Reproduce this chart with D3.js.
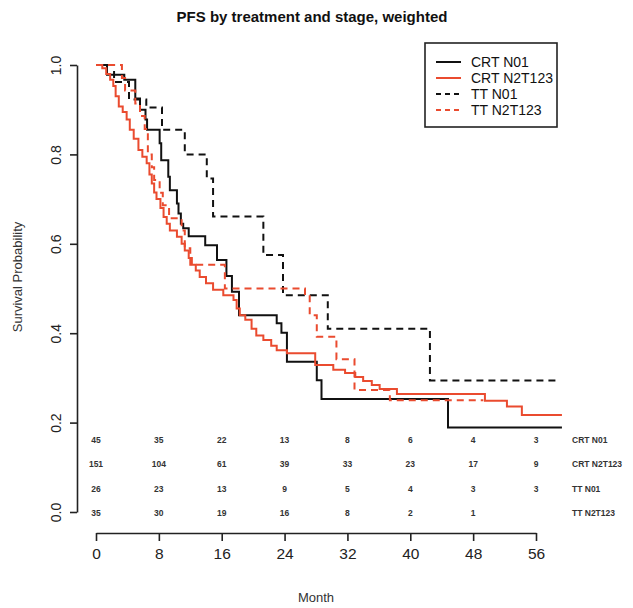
<!DOCTYPE html>
<html><head><meta charset="utf-8">
<script src="https://cdn.jsdelivr.net/npm/d3@7"></script>
<style>
html,body{margin:0;padding:0;background:#fff;}
svg{display:block;font-family:"Liberation Sans",Arial,sans-serif;}
</style></head>
<body>
<svg id="chart" width="633" height="608"></svg>
<script>
// ---------- data ----------
const seriesNames = ["CRT N01", "CRT N2T123", "TT N01", "TT N2T123"];
const monthTicks = [0, 8, 16, 24, 32, 40, 48, 56];
const survTicks = [0, 0.2, 0.4, 0.6, 0.8, 1.0];

// step-function survival curves (time of step, survival after step); last entry = end of follow-up
const crtN01Time = [0, 1.4, 3.6, 5.0, 5.6, 6.3, 6.5, 8.1, 8.3, 9.2, 9.4, 10.3, 10.5, 10.8, 11.1, 11.8, 13.9, 15.4, 16.6, 17.3, 18.2, 23.0, 23.6, 24.3, 28.1, 28.7, 44.8, 59.3];
const crtN01Surv = [1.0, 0.978, 0.967, 0.925, 0.90, 0.878, 0.855, 0.825, 0.787, 0.75, 0.72, 0.69, 0.668, 0.645, 0.635, 0.617, 0.597, 0.564, 0.528, 0.493, 0.44, 0.422, 0.401, 0.336, 0.295, 0.253, 0.189, 0.189];

const crtN2Time = [0, 0.8, 1.3, 1.8, 2.2, 2.5, 2.9, 3.4, 3.9, 4.3, 4.8, 5.4, 5.9, 6.45, 6.8, 7.1, 7.4, 7.7, 8.2, 8.6, 9.0, 9.4, 10.3, 10.9, 11.3, 11.8, 12.2, 12.7, 13.2, 14.0, 14.9, 16.2, 17.5, 17.9, 18.3, 19.0, 19.8, 20.4, 21.3, 22.3, 23.0, 24.3, 27.9, 30.2, 31.7, 33.0, 34.0, 35.1, 36.1, 38.3, 49.5, 52.3, 54.2, 59.3];
const crtN2Surv = [1.0, 0.993, 0.98, 0.967, 0.953, 0.93, 0.907, 0.895, 0.878, 0.855, 0.835, 0.81, 0.795, 0.78, 0.755, 0.735, 0.715, 0.70, 0.68, 0.66, 0.645, 0.63, 0.616, 0.60, 0.585, 0.568, 0.553, 0.54, 0.526, 0.512, 0.497, 0.485, 0.474, 0.455, 0.44, 0.43, 0.41, 0.395, 0.385, 0.372, 0.362, 0.355, 0.329, 0.318, 0.311, 0.302, 0.293, 0.284, 0.275, 0.264, 0.249, 0.236, 0.217, 0.217];

const ttN01Time = [0, 2.3, 4.2, 6.4, 8.4, 11.3, 14.1, 14.9, 21.3, 23.8, 29.5, 42.5, 58.7];
const ttN01Surv = [1.0, 0.962, 0.923, 0.905, 0.855, 0.80, 0.746, 0.661, 0.575, 0.485, 0.41, 0.294, 0.294];

const ttN2Time = [0, 3.3, 3.7, 5.0, 5.6, 6.2, 6.6, 7.1, 7.4, 8.1, 8.5, 9.3, 10.9, 11.3, 12.0, 16.4, 26.6, 27.2, 28.1, 30.6, 32.9, 37.4, 49.3];
const ttN2Surv = [1.0, 0.971, 0.943, 0.914, 0.886, 0.857, 0.80, 0.771, 0.743, 0.714, 0.686, 0.657, 0.63, 0.59, 0.553, 0.50, 0.485, 0.44, 0.392, 0.342, 0.273, 0.25, 0.25];

// numbers at risk at each month tick
const atRiskCRTN01 = [45, 35, 22, 13, 8, 6, 4, 3];
const atRiskCRTN2T123 = [151, 104, 61, 39, 33, 23, 17, 9];
const atRiskTTN01 = [26, 23, 13, 9, 5, 4, 3, 3];
const atRiskTTN2T123 = [35, 30, 19, 16, 8, 2, 1, null];

// ---------- drawing ----------
const svg = d3.select("#chart");
const font = '"Liberation Sans", Arial, sans-serif';
const red = "#ea4b2f";
const colors = ["#111111", red, "#111111", red];
const dashes = [null, null, "7,5", "7,5"];

const x = d3.scaleLinear().domain([0, 56]).range([96, 536]);
const y = d3.scaleLinear().domain([0, 1]).range([512, 65]);

const curves = [
  [crtN01Time, crtN01Surv],
  [crtN2Time, crtN2Surv],
  [ttN01Time, ttN01Surv],
  [ttN2Time, ttN2Surv]
];

// title
svg.append("text").attr("x", 312).attr("y", 22).attr("text-anchor", "middle")
  .attr("font-size", 15).attr("font-weight", "bold").attr("fill", "#111")
  .text("PFS by treatment and stage, weighted");

// y axis
const yAxis = svg.append("g").attr("transform", "translate(77,0)")
  .call(d3.axisLeft(y).tickValues(survTicks).tickFormat(d3.format(".1f")).tickSize(7).tickSizeOuter(0));
yAxis.select(".domain").attr("stroke", "#222").attr("stroke-width", 1.6);
yAxis.selectAll(".tick line").attr("stroke", "#222").attr("stroke-width", 1.6);
yAxis.selectAll(".tick text")
  .attr("font-family", font).attr("font-size", 14).attr("fill", "#222")
  .attr("x", 0).attr("y", 0).attr("dy", 0)
  .attr("text-anchor", "middle")
  .attr("transform", "translate(-16,0) rotate(-90)");

// x axis
const xAxis = svg.append("g").attr("transform", "translate(0,533)")
  .call(d3.axisBottom(x).tickValues(monthTicks).tickSize(8).tickSizeOuter(0));
xAxis.select(".domain").attr("stroke", "#222").attr("stroke-width", 1.6);
xAxis.selectAll(".tick line").attr("stroke", "#222").attr("stroke-width", 1.6);
xAxis.selectAll(".tick text").attr("font-family", font).attr("font-size", 15.5)
  .attr("fill", "#222").attr("y", 15).attr("dy", "0.71em");

// axis titles
svg.append("text").attr("x", 316).attr("y", 602).attr("text-anchor", "middle")
  .attr("font-size", 13).attr("fill", "#333").text("Month");
svg.append("text").attr("transform", "translate(22,277) rotate(-90)").attr("text-anchor", "middle")
  .attr("font-size", 13).attr("fill", "#333").text("Survival Probability");

// curves
const line = d3.line().curve(d3.curveStepAfter).x(d => x(d[0])).y(d => y(d[1]));
curves.forEach((c, i) => {
  const pts = c[0].map((t, k) => [t, c[1][k]]);
  svg.append("path").datum(pts).attr("d", line)
    .attr("fill", "none").attr("stroke", colors[i]).attr("stroke-width", 2)
    .attr("stroke-dasharray", dashes[i]);
});

// numbers at risk
const atRisk = [atRiskCRTN01, atRiskCRTN2T123, atRiskTTN01, atRiskTTN2T123];
const rowY = [440, 464.5, 489, 513.5];
atRisk.forEach((row, r) => {
  row.forEach((v, k) => {
    if (v === null) return;
    svg.append("text").attr("x", x(monthTicks[k])).attr("y", rowY[r]).attr("dy", "0.35em")
      .attr("text-anchor", "middle").attr("font-size", 8.5).attr("font-weight", "bold")
      .attr("fill", "#333").text(v);
  });
  svg.append("text").attr("x", 572).attr("y", rowY[r]).attr("dy", "0.35em")
    .attr("font-size", 8.5).attr("font-weight", "bold").attr("fill", "#333").text(seriesNames[r]);
});

// legend
const lg = svg.append("g").attr("transform", "translate(425,43)");
lg.append("rect").attr("x", 0).attr("y", 0).attr("width", 132).attr("height", 84)
  .attr("fill", "#fff").attr("stroke", "#222").attr("stroke-width", 1.6);
seriesNames.forEach((n, i) => {
  const ly = 19 + i * 16;
  lg.append("line").attr("x1", 11).attr("x2", 36).attr("y1", ly).attr("y2", ly)
    .attr("stroke", colors[i]).attr("stroke-width", 2).attr("stroke-dasharray", dashes[i] ? "5,4" : null);
  lg.append("text").attr("x", 46).attr("y", ly).attr("dy", "0.35em")
    .attr("font-size", 14).attr("fill", "#111").text(n);
});
</script>
</body></html>
